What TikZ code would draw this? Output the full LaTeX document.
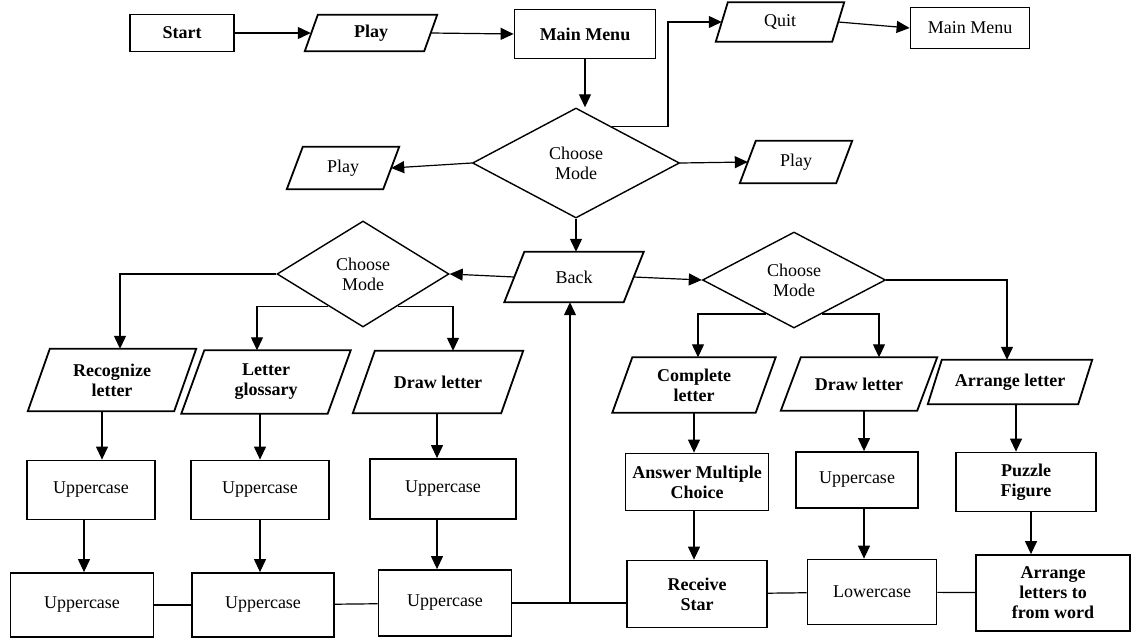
\documentclass[tikz,border=0pt]{standalone}
\usepackage{fontspec}
\setmainfont{Liberation Serif}
\usetikzlibrary{arrows.meta,calc,shapes.geometric}

\begin{document}
\begin{tikzpicture}[
  txt/.style={font=\fontsize{18}{20}\selectfont, align=center},
  bf/.style={font=\fontsize{18}{20}\selectfont\bfseries},
  box/.style={txt, draw, line width=1.8pt, inner sep=0pt},
  para/.style={txt, inner sep=0pt},
  choice/.style={txt, draw, line width=1.4pt, diamond, aspect=1.7, inner sep=0pt},
  arr/.style={line width=1.2pt, -{Triangle[length=13pt,width=12pt]}},
  link/.style={line width=1.2pt}
]
  \useasboundingbox (0pt,0pt) rectangle (1132pt,-638pt);

  %% slanted outline round a node: name, slant
  \newcommand\tilted[2]{\draw[line width=1.8pt] ([xshift=#2]#1.north west)
    -- (#1.north east) -- ([xshift=-#2]#1.south east) -- (#1.south west) -- cycle;}

  %% top row
  \node[box, bf, minimum width=104pt, minimum height=37pt] (start) at (182pt,-33pt) {Start};
  \node[para, bf, minimum width=132pt, minimum height=36pt] (play) at (371pt,-33pt) {Play};
  \node[box, bf, minimum width=141pt, minimum height=49pt] (menu) at (585pt,-34pt) {Main Menu};
  \node[para, minimum width=128pt, minimum height=39pt] (quit) at (780pt,-22pt) {Quit};
  \node[box, minimum width=119pt, minimum height=41pt] (menuq) at (970pt,-28pt) {Main Menu};

  %% first choice
  \node[choice, minimum width=207pt, minimum height=110pt] (mode) at (576pt,-163pt) {Choose\\Mode};
  \node[para, minimum width=112pt, minimum height=42pt] (playl) at (343pt,-168pt) {Play};
  \node[para, minimum width=112pt, minimum height=42pt] (playr) at (796pt,-162pt) {Play};
  \node[para, minimum width=139pt, minimum height=50pt] (back) at (574pt,-277pt) {Back};

  %% second choices
  \node[choice, minimum width=172pt, minimum height=106pt] (model) at (363pt,-274pt) {Choose\\Mode};
  \node[choice, minimum width=183pt, minimum height=96pt] (moder) at (794pt,-280pt) {Choose\\Mode};

  %% games, left
  \node[para, bf, minimum width=168pt, minimum height=62pt] (recog) at (112pt,-380pt) {Recognize\\letter};
  \node[para, bf, minimum width=169pt, minimum height=63pt] (gloss) at (266pt,-382pt) {Letter\\glossary};
  \node[para, bf, minimum width=170pt, minimum height=62pt] (drawl) at (438pt,-382pt) {Draw letter};

  %% games, right
  \node[para, bf, minimum width=163pt, minimum height=55pt] (compl) at (694pt,-385pt) {Complete\\letter};
  \node[para, bf, minimum width=156pt, minimum height=53pt] (drawr) at (859pt,-384pt) {Draw letter};
  \node[para, bf, minimum width=164pt, minimum height=44pt] (arrl) at (1010pt,-382pt) {Arrange letter};

  %% outlines
  \tilted{play}{13pt}
  \tilted{quit}{12pt}
  \tilted{playl}{16pt}
  \tilted{playr}{16pt}
  \tilted{back}{20pt}
  \tilted{recog}{22pt}
  \tilted{gloss}{23pt}
  \tilted{drawl}{22pt}
  \tilted{compl}{20pt}
  \tilted{drawr}{20pt}
  \tilted{arrl}{14pt}

  %% steps
  \node[box, minimum width=128pt, minimum height=59pt] (upa) at (91pt,-490pt) {Uppercase};
  \node[box, minimum width=138pt, minimum height=59pt] (upb) at (260pt,-490pt) {Uppercase};
  \node[box, minimum width=146pt, minimum height=60pt] (upc) at (443pt,-489pt) {Uppercase};
  \node[box, bf, minimum width=143pt, minimum height=57pt] (answ) at (697pt,-482pt) {Answer Multiple\\Choice};
  \node[box, minimum width=122pt, minimum height=56pt] (upd) at (857pt,-480pt) {Uppercase};
  \node[box, bf, minimum width=140pt, minimum height=59pt] (puzz) at (1026pt,-482pt) {Puzzle\\Figure};

  %% bottom row
  \node[box, minimum width=143pt, minimum height=64pt] (lowa) at (82pt,-605pt) {Uppercase};
  \node[box, minimum width=142pt, minimum height=64pt] (lowb) at (263pt,-605pt) {Uppercase};
  \node[box, minimum width=133pt, minimum height=66pt] (lowc) at (445pt,-603pt) {Uppercase};
  \node[box, bf, minimum width=140pt, minimum height=67pt] (star) at (697pt,-594pt) {Receive\\Star};
  \node[box, minimum width=129pt, minimum height=65pt] (lowd) at (872pt,-592pt) {Lowercase};
  \node[box, bf, minimum width=154pt, minimum height=76pt] (word) at (1053pt,-593pt) {Arrange\\letters to\\from word};

  %% columns
  \coordinate (kq) at (668pt,0pt);
  \coordinate (kr) at (120pt,0pt);
  \coordinate (kg) at (257pt,0pt);
  \coordinate (kd) at (453pt,0pt);
  \coordinate (kc) at (698pt,0pt);
  \coordinate (ke) at (879pt,0pt);
  \coordinate (ka) at (1007pt,0pt);
  \coordinate (ca) at (102pt,0pt);
  \coordinate (cb) at (84pt,0pt);
  \coordinate (cc) at (260pt,0pt);
  \coordinate (cd) at (437pt,0pt);
  \coordinate (ce) at (694pt,0pt);
  \coordinate (cf) at (864pt,0pt);
  \coordinate (cg) at (1016pt,0pt);
  \coordinate (ch) at (1031pt,0pt);
  \coordinate (kb) at (570pt,0pt);

  %% top connectors
  \draw[arr] (start.east) -- ([xshift=6pt]play.west);
  \draw[arr] ([xshift=-6pt]play.east) -- (menu.west);
  \draw[arr] (menu.south) -- (menu.south |- mode.north);
  \draw[arr] ($(mode.north)!.35!(mode.east)$) -| (quit.west -| kq) -- ([xshift=6pt]quit.west);
  \draw[arr] ([xshift=-6pt]quit.east) -- (menuq.west);
  \draw[arr] (mode.west) -- ([xshift=-8pt]playl.east);
  \draw[arr] (mode.east) -- ([xshift=8pt]playr.west);
  \draw[arr] (mode.south) -- (mode.south |- back.north);
  \draw[arr] ([xshift=10pt]back.west) -- (model.east);
  \draw[arr] ([xshift=-10pt]back.east) -- (moder.west);

  %% branches
  \draw[arr] (model.west) -| (recog.north -| kr);
  \draw[arr] ($(model.west)!.6!(model.south)$) -| (gloss.north -| kg);
  \draw[arr] ($(model.east)!.6!(model.south)$) -| (drawl.north -| kd);
  \draw[arr] ($(moder.west)!.7!(moder.south)$) -| (compl.north -| kc);
  \draw[arr] ($(moder.east)!.7!(moder.south)$) -| (drawr.north -| ke);
  \draw[arr] (moder.east) -| (arrl.north -| ka);

  %% down the columns
  \draw[arr] (recog.south -| ca) -- (upa.north -| ca);
  \draw[arr] (upa.south -| cb) -- (lowa.north -| cb);
  \draw[arr] (gloss.south -| cc) -- (upb.north -| cc);
  \draw[arr] (upb.south -| cc) -- (lowb.north -| cc);
  \draw[arr] (drawl.south -| cd) -- (upc.north -| cd);
  \draw[arr] (upc.south -| cd) -- (lowc.north -| cd);
  \draw[arr] (compl.south -| ce) -- (answ.north -| ce);
  \draw[arr] (answ.south -| ce) -- (star.north -| ce);
  \draw[arr] (drawr.south -| cf) -- (upd.north -| cf);
  \draw[arr] (upd.south -| cf) -- (lowd.north -| cf);
  \draw[arr] (arrl.south -| cg) -- (puzz.north -| cg);
  \draw[arr] (puzz.south -| ch) -- (word.north -| ch);

  %% bottom line and back
  \draw[link] (lowa) -- (lowb);
  \draw[link] (lowb) -- (lowc);
  \draw[link] (lowc.east) -- (lowc.east -| star.west);
  \draw[link] (star) -- (lowd);
  \draw[link] (lowd) -- (word);
  \draw[arr] (lowc.east -| kb) -- (back.south -| kb);

\end{tikzpicture}
\end{document}
